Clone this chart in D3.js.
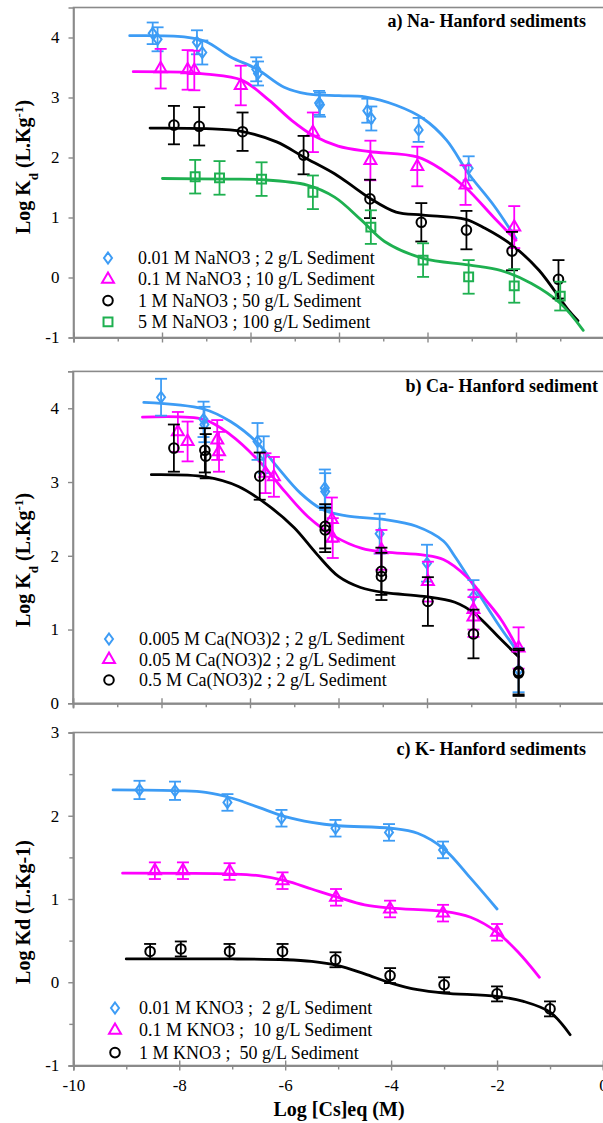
<!DOCTYPE html>
<html><head><meta charset="utf-8">
<script src="https://cdn.jsdelivr.net/npm/d3@7"></script>
<style>
html,body{margin:0;padding:0;background:#fff;}
svg{display:block;}
text{font-family:"Liberation Serif","Times New Roman",serif;}
</style></head>
<body>
<script>
// ---------------- DATA ----------------
// Panel a) Na- Hanford sediments
const naLegend = ["0.01 M NaNO3 ; 2 g/L Sediment","0.1 M NaNO3 ; 10 g/L Sediment","1 M NaNO3 ; 50 g/L Sediment","5 M NaNO3 ; 100 g/L Sediment"];
const naBlueX = [-8.21,-8.10,-7.21,-7.09,-5.87,-5.83,-4.45,-4.43,-3.36,-3.27,-2.20,-1.07];
const naBlueY = [4.07,3.97,3.92,3.75,3.47,3.40,2.91,2.88,2.78,2.65,2.46,1.82];
const naBlueE = [0.18,0.20,0.20,0.20,0.20,0.20,0.20,0.20,0.20,0.20,0.20,0.20];
const naPinkX = [-8.03,-7.42,-7.27,-6.22,-4.59,-3.29,-2.23,-1.14,-0.04];
const naPinkY = [3.48,3.46,3.45,3.20,2.42,1.95,1.85,1.54,0.84];
const naPinkE = [0.33,0.33,0.33,0.33,0.33,0.33,0.33,0.33,0.35];
const naBlackX = [-7.73,-7.16,-6.18,-4.80,-3.30,-2.14,-1.12,-0.09,0.96];
const naBlackY = [2.54,2.52,2.43,2.04,1.31,0.92,0.79,0.44,-0.03];
const naBlackE = [0.32,0.32,0.32,0.32,0.32,0.32,0.32,0.32,0.32];
const naGreenX = [-7.25,-6.70,-5.75,-4.59,-3.28,-2.10,-1.07,-0.04,1.00];
const naGreenY = [1.68,1.66,1.64,1.42,0.84,0.29,0.01,-0.14,-0.31];
const naGreenE = [0.28,0.28,0.28,0.28,0.28,0.28,0.28,0.28,0.24];
const naBlueFitX = [-8.73,-7.5,-7.0,-6.46,-5.85,-5.24,-4.72,-4.0,-3.41,-2.71,-2.1,-1.57,-1.07,-0.5,0.0];
const naBlueFitY = [4.03,4.01,3.93,3.68,3.47,3.17,3.06,3.03,3.01,2.87,2.65,2.29,1.73,1.2,0.65];
const naPinkFitX = [-8.65,-7.5,-7.0,-6.2,-5.59,-5.07,-4.59,-4.02,-3.32,-2.23,-1.66,-1.14,-0.5,0.0];
const naPinkFitY = [3.43,3.42,3.39,3.29,2.96,2.62,2.37,2.19,2.1,2.01,1.79,1.5,1.0,0.62];
const naBlackFitX = [-8.27,-7.0,-6.18,-5.41,-4.8,-4.1,-3.67,-3.3,-2.71,-2.1,-1.14,-0.7,-0.09,0.52,1.18,1.4];
const naBlackFitY = [2.49,2.48,2.43,2.26,2.01,1.73,1.51,1.32,1.09,1.04,0.97,0.82,0.54,0.12,-0.54,-0.72];
const naGreenFitX = [-7.99,-6.5,-5.75,-4.72,-4.1,-3.5,-2.97,-2.1,-1.07,-0.35,0.35,1.0,1.52];
const naGreenFitY = [1.65,1.64,1.63,1.54,1.34,0.96,0.6,0.32,0.21,0.12,-0.1,-0.43,-0.88];

// Panel b) Ca- Hanford sediment
const caLegend = ["0.005 M Ca(NO3)2 ; 2 g/L Sediment","0.05 M Ca(NO3)2 ; 2 g/L Sediment","0.5 M Ca(NO3)2 ; 2 g/L Sediment"];
const caBlueX = [-8.01,-7.05,-7.03,-5.83,-5.69,-4.31,-4.30,-3.07,-2.00,-0.95,0.07];
const caBlueY = [4.15,3.85,3.78,3.55,3.37,2.92,2.87,2.30,1.90,1.45,0.45];
const caBlueE = [0.25,0.24,0.24,0.25,0.25,0.25,0.25,0.27,0.25,0.22,0.30];
const caPinkX = [-7.63,-7.41,-6.74,-6.70,-5.65,-5.46,-4.15,-4.13,-3.03,-1.98,-0.95,-0.95,0.07];
const caPinkY = [3.68,3.55,3.57,3.41,3.12,3.07,2.49,2.24,2.08,1.65,1.27,1.17,0.75];
const caPinkE = [0.27,0.27,0.27,0.27,0.27,0.27,0.30,0.27,0.27,0.27,0.27,0.27,0.28];
const caBlackX = [-7.72,-7.02,-7.00,-5.78,-4.30,-4.30,-3.03,-3.03,-1.98,-0.95,0.07,0.07];
const caBlackY = [3.46,3.43,3.35,3.08,2.40,2.35,1.79,1.72,1.38,0.94,0.43,0.41];
const caBlackE = [0.32,0.30,0.30,0.32,0.30,0.30,0.32,0.32,0.33,0.33,0.31,0.31];
const caBlueFitX = [-8.4,-7.05,-6.44,-5.83,-5.39,-4.86,-4.34,-3.82,-2.94,-2.24,-1.63,-1.37,-0.93,-0.41,0.07];
const caBlueFitY = [4.08,3.99,3.82,3.53,3.21,2.85,2.62,2.54,2.49,2.4,2.2,1.99,1.58,1.09,0.68];
const caPinkFitX = [-8.43,-7.05,-6.44,-5.74,-5.21,-4.69,-4.08,-3.47,-2.94,-2.07,-1.63,-1.11,-0.67,-0.32,0.07];
const caPinkFitY = [3.88,3.85,3.64,3.25,2.87,2.53,2.26,2.1,2.05,2.01,1.95,1.72,1.4,1.13,0.72];
const caBlackFitX = [-8.23,-7.0,-6.26,-5.56,-5.0,-4.5,-4.0,-3.5,-2.94,-2.07,-1.37,-0.93,-0.32,0.07];
const caBlackFitY = [3.1,3.07,2.94,2.67,2.38,2.03,1.72,1.57,1.5,1.45,1.37,1.22,0.86,0.63];

// Panel c) K- Hanford sediments
const kLegend = ["0.01 M KNO3 ;  2 g/L Sediment","0.1 M KNO3 ;  10 g/L Sediment","1 M KNO3 ;  50 g/L Sediment"];
const kBlueX = [-8.75,-8.08,-7.09,-6.07,-5.05,-4.04,-3.02];
const kBlueY = [2.31,2.30,2.16,1.97,1.85,1.80,1.59];
const kBlueE = [0.11,0.11,0.10,0.10,0.10,0.10,0.10];
const kPinkX = [-8.46,-7.93,-7.05,-6.05,-5.04,-4.02,-3.02,-2.00];
const kPinkY = [1.34,1.34,1.33,1.22,1.02,0.88,0.83,0.60];
const kPinkE = [0.10,0.10,0.10,0.10,0.10,0.10,0.10,0.10];
const kBlackX = [-8.55,-7.97,-7.05,-6.05,-5.05,-4.02,-3.00,-2.00,-1.00];
const kBlackY = [0.37,0.40,0.37,0.37,0.27,0.08,-0.03,-0.14,-0.32];
const kBlackE = [0.09,0.09,0.09,0.09,0.09,0.09,0.09,0.09,0.09];
const kBlueFitX = [-9.25,-8.0,-7.5,-7.0,-6.5,-6.0,-5.5,-5.0,-4.0,-3.5,-3.0,-2.5,-2.0];
const kBlueFitY = [2.31,2.30,2.28,2.21,2.1,1.99,1.92,1.88,1.85,1.79,1.6,1.25,0.88];
const kPinkFitX = [-9.07,-7.0,-6.5,-6.0,-5.5,-5.0,-4.5,-4.0,-3.0,-2.5,-2.0,-1.6,-1.2];
const kPinkFitY = [1.31,1.30,1.28,1.22,1.12,1.02,0.93,0.89,0.85,0.78,0.6,0.36,0.06];
const kBlackFitX = [-9.0,-7.0,-6.0,-5.5,-5.0,-4.5,-4.0,-3.5,-3.0,-2.0,-1.5,-1.0,-0.62];
const kBlackFitY = [0.28,0.28,0.27,0.25,0.2,0.1,-0.01,-0.09,-0.13,-0.17,-0.23,-0.36,-0.63];

const xTicksC = [-10,-8,-6,-4,-2,0];

// ---------------- STYLE ----------------
const W = 603, H = 1123;
const C = {blue:"#3d9cf5", pink:"#ff00ff", black:"#000000", green:"#1eb050", axis:"#8a8a8a"};
const fmt = d => String(d);   // hyphen-minus like the original

const svg = d3.select("body").append("svg").attr("width",W).attr("height",H);

function zip(xs, ys, es){ return xs.map((x,i)=>({x, y:ys[i], e: es? es[i]:0})); }

function markerPath(shape){
  if(shape==="diamond") return "M0,-5.5L4,0L0,5.5L-4,0Z";
  if(shape==="triangle") return d3.symbol(d3.symbolTriangle, 62)();
  if(shape==="circle") return d3.symbol(d3.symbolCircle, 72)();
  return d3.symbol(d3.symbolSquare, 80)();
}

function panel(cfg){
  const g = svg.append("g");
  const x = d3.scaleLinear().domain(cfg.xDomain).range(cfg.xRange);
  const y = d3.scaleLinear().domain(cfg.yDomain).range(cfg.yRange);
  const [x0] = cfg.xRange; const [yb, yt] = cfg.yRange;

  g.append("rect").attr("x",x0).attr("y",yt).attr("width",W+10-x0).attr("height",yb-yt)
    .attr("fill","none").attr("stroke",C.axis).attr("stroke-width",1.6);

  const xMaj = d3.range(cfg.xDomain[0], cfg.xDomain[1]+0.01, 2);
  const xMin = d3.range(cfg.xDomain[0]+1, cfg.xDomain[1], 2);
  g.append("g").attr("transform",`translate(0,${yb})`)
    .call(d3.axisBottom(x).tickValues(cfg.xLabels ? cfg.xLabels : xMaj).tickSize(5).tickPadding(8)
      .tickFormat(cfg.xLabels ? fmt : ()=>""));
  g.append("g").attr("transform",`translate(0,${yb})`)
    .call(d3.axisTop(x).tickValues(xMaj).tickSize(5).tickFormat(()=>""));
  g.append("g").attr("transform",`translate(0,${yb})`)
    .call(d3.axisBottom(x).tickValues(xMin).tickSize(4).tickFormat(()=>""));
  g.append("g").attr("transform",`translate(${x0},0)`)
    .call(d3.axisLeft(y).tickValues(cfg.yTicks).tickSize(5).tickPadding(9).tickFormat(fmt));
  if(cfg.yMinor) g.append("g").attr("transform",`translate(${x0},0)`)
    .call(d3.axisLeft(y).tickValues(cfg.yMinor).tickSize(4).tickFormat(()=>""));
  g.selectAll(".domain").attr("stroke",C.axis).attr("stroke-width",1.6);
  g.selectAll(".tick line").attr("stroke",C.axis).attr("stroke-width",1.4);
  g.selectAll(".tick text").attr("fill","#000").style("font-size","17px")
    .style("font-family","'Liberation Serif',serif");

  const line = d3.line().x(d=>x(d.x)).y(d=>y(d.y)).curve(d3.curveCatmullRom.alpha(0.5));
  cfg.series.forEach(s=>{
    g.append("path").datum(zip(s.fx, s.fy)).attr("d", line)
      .attr("fill","none").attr("stroke",s.color).attr("stroke-width",2.8).attr("stroke-linecap","round");
  });
  cfg.series.forEach(s=>{
    const pts = zip(s.x, s.y, s.e);
    const eb = g.append("g").attr("stroke",s.color).attr("stroke-width",1.8).attr("fill","none");
    pts.forEach(p=>{
      eb.append("line").attr("x1",x(p.x)).attr("x2",x(p.x)).attr("y1",y(p.y-p.e)).attr("y2",y(p.y+p.e));
      [p.y-p.e, p.y+p.e].forEach(v=>eb.append("line").attr("x1",x(p.x)-6).attr("x2",x(p.x)+6).attr("y1",y(v)).attr("y2",y(v)));
    });
    g.append("g").selectAll("path").data(pts).join("path")
      .attr("d", markerPath(s.shape))
      .attr("transform",d=>`translate(${x(d.x)},${y(d.y)})`)
      .attr("fill","none").attr("stroke",s.color).attr("stroke-width",2);
  });

  const lg = g.append("g");
  cfg.series.forEach((s,i)=>{
    const ly = cfg.legendY + i*cfg.legendDy;
    lg.append("path").attr("d",markerPath(s.shape)).attr("transform",`translate(${cfg.legendMx},${ly})`)
      .attr("fill","none").attr("stroke",s.color).attr("stroke-width",2);
    lg.append("text").attr("x",cfg.legendTx).attr("y",ly+6).style("font-size","18px")
      .style("white-space","pre").attr("xml:space","preserve").text(s.label);
  });

  g.append("text").attr("x",cfg.titleX).attr("y",cfg.titleY).attr("text-anchor","end")
    .style("font-size","18px").style("font-weight","bold").text(cfg.title);

  const yl = g.append("text").attr("transform",`translate(${cfg.ylabX},${cfg.ylabY}) rotate(-90)`)
    .attr("text-anchor","middle").style("font-size","20px").style("font-weight","bold");
  cfg.ylab(yl);
  return {x,y};
}

function kdLabel(t){
  t.append("tspan").text("Log K");
  t.append("tspan").attr("baseline-shift","sub").style("font-size","13px").text("d");
  t.append("tspan").text(" (L.Kg");
  t.append("tspan").attr("baseline-shift","super").style("font-size","13px").text("-1");
  t.append("tspan").text(")");
}

panel({
  xDomain:[-10,2], xRange:[73.5,604.5], yDomain:[-1,4.5], yRange:[337.5,7.5],
  yTicks:[-1,0,1,2,3,4],
  title:"a) Na- Hanford sediments", titleX:586, titleY:27,
  ylabX:30, ylabY:167, ylab:kdLabel,
  legendMx:108, legendTx:138, legendY:258, legendDy:21.3,
  series:[
    {label:naLegend[0], color:C.blue, shape:"diamond", x:naBlueX, y:naBlueY, e:naBlueE, fx:naBlueFitX, fy:naBlueFitY},
    {label:naLegend[1], color:C.pink, shape:"triangle", x:naPinkX, y:naPinkY, e:naPinkE, fx:naPinkFitX, fy:naPinkFitY},
    {label:naLegend[2], color:C.black, shape:"circle", x:naBlackX, y:naBlackY, e:naBlackE, fx:naBlackFitX, fy:naBlackFitY},
    {label:naLegend[3], color:C.green, shape:"square", x:naGreenX, y:naGreenY, e:naGreenE, fx:naGreenFitX, fy:naGreenFitY}
  ]
});

panel({
  xDomain:[-10,2], xRange:[73,604], yDomain:[0,4.5], yRange:[703.3,371.4],
  yTicks:[0,1,2,3,4],
  title:"b) Ca- Hanford sediment", titleX:598, titleY:392,
  ylabX:30, ylabY:560, ylab:kdLabel,
  legendMx:109, legendTx:139, legendY:639, legendDy:20.5,
  series:[
    {label:caLegend[0], color:C.blue, shape:"diamond", x:caBlueX, y:caBlueY, e:caBlueE, fx:caBlueFitX, fy:caBlueFitY},
    {label:caLegend[1], color:C.pink, shape:"triangle", x:caPinkX, y:caPinkY, e:caPinkE, fx:caPinkFitX, fy:caPinkFitY},
    {label:caLegend[2], color:C.black, shape:"circle", x:caBlackX, y:caBlackY, e:caBlackE, fx:caBlackFitX, fy:caBlackFitY}
  ]
});

panel({
  xDomain:[-10,0], xRange:[73.3,603], yDomain:[-1,3], yRange:[1065.5,732.5],
  yTicks:[-1,0,1,2,3], yMinor:[-0.5,0.5,1.5,2.5], xLabels:xTicksC,
  title:"c) K- Hanford sediments", titleX:586, titleY:755,
  ylabX:30, ylabY:912, ylab:t=>t.text("Log Kd (L.Kg-1)"),
  legendMx:115, legendTx:139, legendY:1008, legendDy:22.3,
  series:[
    {label:kLegend[0], color:C.blue, shape:"diamond", x:kBlueX, y:kBlueY, e:kBlueE, fx:kBlueFitX, fy:kBlueFitY},
    {label:kLegend[1], color:C.pink, shape:"triangle", x:kPinkX, y:kPinkY, e:kPinkE, fx:kPinkFitX, fy:kPinkFitY},
    {label:kLegend[2], color:C.black, shape:"circle", x:kBlackX, y:kBlackY, e:kBlackE, fx:kBlackFitX, fy:kBlackFitY}
  ]
});

svg.append("text").attr("x",339).attr("y",1116).attr("text-anchor","middle")
  .style("font-size","20px").style("font-weight","bold").text("Log [Cs]eq (M)");
</script>
</body></html>
